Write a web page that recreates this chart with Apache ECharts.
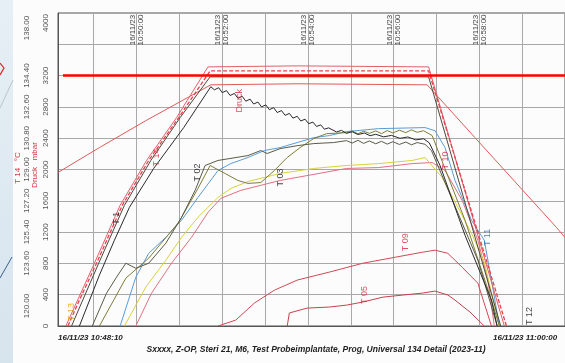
<!DOCTYPE html>
<html><head><meta charset="utf-8">
<script src="https://cdn.jsdelivr.net/npm/echarts@6/dist/echarts.min.js"></script>
<style>html,body{margin:0;padding:0;background:#fcfcfc}#c{width:565px;height:363px}</style>
</head><body><div id="c"></div><script>
// time in seconds after 16/11/23 10:48:10, temperature in °C, pressure in mbar
const startLabel = '16/11/23 10:48:10';
const endLabel = '16/11/23 11:00:00';
const titleText = 'Sxxxx, Z-OP, Steri 21, M6, Test Probeimplantate, Prog, Universal 134 Detail (2023-11)';
const spanSeconds = 710;
const pressureTicks = [0,400,800,1200,1600,2000,2400,2800,3200,4000];
const tempTicks = [120,123.6,125.4,127.2,129,130.8,132.6,134.4,138];
const refPressure = [[7,3200],[710,3200]];

const druck = [[30,0],[58,650],[79,1096],[100,1516],[134,2013],[176,2535],[214,3058],
[219,3018],[225,3045],[230,2982],[236,3008],[241,2946],[247,2972],[252,2910],[258,2936],[263,2873],[269,2899],[274,2837],[280,2862],[285,2800],[291,2826],[296,2764],[302,2790],[307,2728],[313,2753],[318,2692],[324,2717],[329,2656],[335,2680],[340,2620],[346,2643],[351,2585],[357,2606],[362,2550],[368,2570],[373,2515],[379,2532],
[390,2480],[397,2500],[404,2462],[412,2482],[420,2447],[429,2466],[437,2432],[445,2450],[456,2417],[467,2436],[479,2398],[490,2416],[501,2378],[512,2393],[520,2340],
[535,2051],[570,1159],[607,331],[615,0]];
const t13 = [[11,120],[51,123.61],[87,126.94],[124,129.52],[166,131.98],[210,134.9],[335,134.96],[519,134.9],[625,120]];
const t14 = [[14,120],[30,121.49],[54,123.61],[90,126.94],[127,129.52],[169,131.98],[213,134.67],[519,134.67],[628,120]];
const t01 = [[19,120],[57,123.61],[93,126.94],[130,129.52],[171,131.98],[213,134.33],[519,134.33],[620,120]];
const t12 = [[0,128.83],[58,130.26],[123,131.81],[214,133.87],[335,133.93],[517,133.87],[584,130.83],[698,125.67],[711,125.04]];
const t02 = [[48,120],[68,121.89],[82,122.81],[95,123.61],[109,123.32],[127,123.61],[151,124.76],[173,126.25],[192,127.8],[206,129.23],[224,129.52],[266,129.8],[284,130.09],[293,129.92],[311,130.2],[335,130.37],[358,130.49],[386,130.55],
[404,130.66],[412,130.52],[420,130.68],[428,130.5],[436,130.64],[445,130.48],[453,130.62],[461,130.46],[469,130.6],[478,130.44],[487,130.58],[495,130.42],[503,130.55],[514,130.45],[523,130.09],[588,123.78],[615,120]];
const t03 = [[58,120],[95,122.75],[127,123.9],[169,125.96],[196,127.91],[213,129.23],[234,128.77],[252,128.37],[266,128.2],[284,128.25],[303,128.94],[321,129.69],[339,130.26],[358,130.78],[376,131.06],
[404,131.12],[412,131.22],[420,131.05],[428,131.2],[436,131.08],[445,131.22],[453,131.06],[461,131.24],[469,131.1],[478,131.26],[487,131.12],[495,131.28],[503,131.14],[512,131.23],[524,130.95],[570,126.08],[607,121.49],[618,120]];
const t11 = [[87,120],[109,122.81],[127,124.18],[151,125.1],[173,126.08],[196,127.39],[224,128.94],[242,129.34],[266,129.69],[289,130.09],[311,130.26],[335,130.55],[358,130.83],[380,130.95],[404,131.18],[449,131.35],[514,131.41],[528,131.23],[542,130.26],[556,128.37],[579,126.08],[597,124.93],[607,122.64],[618,120]];
const t04 = [[93,120],[123,122.24],[151,123.78],[173,125.1],[196,126.25],[224,127.39],[242,127.91],[266,128.31],[311,128.77],[358,129.06],[404,129.23],[449,129.34],[496,129.52],[514,129.69],[538,128.54],[560,126.82],[579,125.33],[597,123.67],[618,120]];
const t10 = [[109,120],[131,121.89],[159,123.61],[187,125.1],[210,126.53],[228,127.34],[256,127.8],[311,128.37],[404,129.06],[449,129.11],[496,129.34],[524,129.4],[542,128.94],[566,127.22],[588,124.93],[602,122.64],[611,120]];
const t09 = [[224,120],[249,120.34],[275,121.32],[303,122.06],[335,122.64],[380,123.1],[427,123.61],[473,123.96],[510,124.24],[528,124.36],[546,124.18],[566,123.38],[588,122.46],[607,120]];
const t05 = [[321,120],[324,120.75],[349,121.03],[380,121.09],[404,121.2],[427,121.38],[455,121.66],[483,121.78],[510,121.89],[528,122.01],[546,121.78],[556,121.49],[577,120.8],[597,120]];

const tempLabelNames = ['T 14','T 13','T 1','T 02','T 03','T 10','T 09','T 05','T 11','T 12'];
const tempLabelTimes = [138,19,82,196,311,542,487,429,602,660];
const tempLabelValues = [129.69,120.8,126.19,128.83,128.54,129.52,124.81,121.78,125.1,120.57];
const tempLabelColors = ['#d02838','#e89a10','#111','#111','#111','#d02838','#d02838','#d02838','#2a68a8','#111'];
const pressLabelNames = ['Druck'];
const pressLabelTimes = [254];
const pressLabelValues = [2879];

const base = Date.UTC(2023,10,16,10,48,10);
const ts = s => base + s*1000;
const mk = arr => arr.map(p => [ts(p[0]), p[1]]);
const pad = n => (n<10?'0':'')+n;
const FONT = '"Liberation Sans", Arial, sans-serif';

function line(name, data, color, yIdx, extra) {
  return Object.assign({type:'line', name, data: mk(data), yAxisIndex: yIdx, symbol:'none', silent:true,
    lineStyle:{color, width:1}, clip:true}, extra || {});
}

const chart = echarts.init(document.getElementById('c'), null, {renderer:'canvas'});
chart.setOption({
  animation:false,
  useUTC:true,
  backgroundColor:'#fcfcfc',
  textStyle:{fontFamily:FONT},
  grid:{left:58, top:13, right:-7, bottom:37, show:true, borderColor:'#555', borderWidth:1},
  xAxis:[{type:'time', position:'top', min:base, max:ts(spanSeconds), minInterval:60000, maxInterval:60000,
    axisLine:{show:true, lineStyle:{color:'#555'}}, axisTick:{show:false},
    splitLine:{show:true, lineStyle:{color:'#a8a8a8', width:1}},
    axisLabel:{inside:true, rotate:90, margin:17, align:'center', verticalAlign:'middle', fontSize:8, lineHeight:8,
      color:'#444', showMinLabel:false, fontFamily:FONT,
      formatter:function(v){ const d=new Date(v); const m=d.getUTCMinutes();
        if (d.getUTCSeconds()!==0 || m%2!==0) return '';
        return '16/11/23\n'+pad(d.getUTCHours())+':'+pad(m)+':00'; }}}],
  yAxis:[
    {type:'value', min:0, max:4000, interval:400, position:'left',
      axisLine:{show:true, lineStyle:{color:'#555'}}, axisTick:{show:false},
      splitLine:{show:true, lineStyle:{color:'#a8a8a8', width:1}},
      axisLabel:{rotate:90, margin:12, align:'center', verticalAlign:'middle', fontSize:8, color:'#555',
        formatter:function(v){ if (pressureTicks.indexOf(v)<0) return ''; return v===4000 ? '{top|4000}' : String(v); },
        rich:{top:{padding:[0,20,0,0], fontSize:8, color:'#555'}}}},
    {type:'value', min:120, max:138, position:'left',
      axisLine:{show:false}, axisTick:{show:false}, splitLine:{show:false},
      axisLabel:{customValues:tempTicks, rotate:90, margin:31, align:'center', verticalAlign:'middle', fontSize:8, color:'#555',
        formatter:function(v){ const s=v.toFixed(2); if (Math.abs(v-138)<1e-6) return '{top|'+s+'}'; if (Math.abs(v-120)<1e-6) return '{bot|'+s+'}'; return s; },
        rich:{top:{padding:[0,30,0,0], fontSize:8, color:'#555'}, bot:{padding:[0,0,0,40], fontSize:8, color:'#555'}}}}
  ],
  graphic:[
    {type:'rect', shape:{x:0,y:0,width:13,height:363}, style:{fill:new echarts.graphic.LinearGradient(0,0,1,1,[{offset:0,color:'#e6eff5'},{offset:1,color:'#d6e4ee'}])}, z:-1},
    {type:'polyline', shape:{points:[[13,80],[0,108]]}, style:{stroke:'#b8c4cc', lineWidth:1, fill:null}},
    {type:'polyline', shape:{points:[[12,257],[0,278]]}, style:{stroke:'#3d5f8a', lineWidth:1, fill:null}},
    {type:'polyline', shape:{points:[[0,63],[4,68],[0,75]]}, style:{stroke:'#e02020', lineWidth:1.2, fill:null}},
    {type:'text', x:18, y:168, rotation:Math.PI/2, style:{text:'T 14   °C', fill:'#d83040', font:'8px '+FONT, align:'center', verticalAlign:'middle'}},
    {type:'text', x:35, y:165, rotation:Math.PI/2, style:{text:'Druck   mbar', fill:'#d83040', font:'8px '+FONT, align:'center', verticalAlign:'middle'}},
    {type:'text', x:58, y:338, style:{text:startLabel, fill:'#222', font:'italic bold 8px '+FONT, align:'left', verticalAlign:'middle'}},
    {type:'text', x:493, y:338, style:{text:endLabel, fill:'#222', font:'italic bold 8px '+FONT, align:'left', verticalAlign:'middle'}},
    {type:'text', x:316, y:350, style:{text:titleText, fill:'#222', font:'italic bold 8.5px '+FONT, align:'center', verticalAlign:'middle'}}
  ],
  series:[
    line('T 12', t12, '#e05a5a', 1),
    line('T 05', t05, '#c8404c', 1),
    line('T 09', t09, '#d44854', 1),
    line('T 10', t10, '#e07080', 1),
    line('T 04', t04, '#d8d238', 1),
    line('T 11', t11, '#5b9bd5', 1),
    line('T 03', t03, '#7d7d38', 1),
    line('T 02', t02, '#5a5a48', 1),
    line('Druck', druck, '#2a2a2a', 0),
    line('T 01', t01, '#4d4a3a', 1),
    line('T 13', t13, '#e06068', 1),
    line('T 14', t14, '#e8404f', 1, {lineStyle:{color:'#e8404f', width:1.3, type:[4,2]}}),
    line('3200 mbar', refPressure, '#ff0000', 0, {lineStyle:{color:'#ff0000', width:2.5}, z:10}),
    {type:'scatter', yAxisIndex:1, symbol:'circle', symbolSize:1, itemStyle:{color:'rgba(0,0,0,0)'}, silent:true, z:11,
      data: tempLabelNames.map((n,i)=>({name:n, value:[ts(tempLabelTimes[i]), tempLabelValues[i]], label:{color:tempLabelColors[i]}})),
      label:{show:true, position:'inside', rotate:90, fontSize:9, textBorderWidth:0, formatter:'{b}'}},
    {type:'scatter', yAxisIndex:0, symbol:'circle', symbolSize:1, itemStyle:{color:'rgba(0,0,0,0)'}, silent:true, z:11,
      data: pressLabelNames.map((n,i)=>({name:n, value:[ts(pressLabelTimes[i]), pressLabelValues[i]]})),
      label:{show:true, position:'inside', rotate:90, fontSize:9, textBorderWidth:0, color:'#d02838', formatter:'{b}'}}
  ]
});
</script></body></html>
